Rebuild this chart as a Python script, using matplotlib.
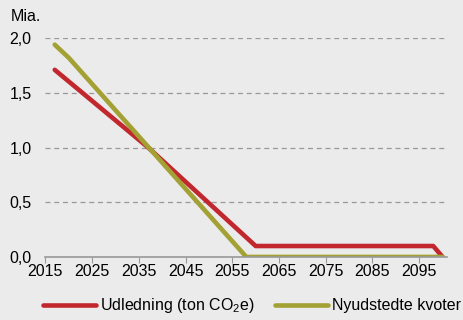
import matplotlib
matplotlib.use("Agg")
import matplotlib.pyplot as plt

plt.rcParams['font.family'] = ['Liberation Sans', 'DejaVu Sans']
plt.rcParams['mathtext.fontset'] = 'custom'
plt.rcParams['mathtext.rm'] = 'Liberation Sans'
plt.rcParams['mathtext.it'] = 'Liberation Sans:italic'

# data (mia.)
udl_years = [2017, 2037, 2060, 2098, 2100]
udl_vals = [1.71, 1.00, 0.10, 0.10, 0.00]
kvo_years = [2017, 2020, 2058, 2100]
kvo_vals = [1.94, 1.82, 0.00, 0.00]
xticks = list(range(2015, 2100, 10))
yticks = [0, 0.5, 1.0, 1.5, 2.0]
ylabels = ['0,0', '0,5', '1,0', '1,5', '2,0']

bg = '#ebebeb'
red = '#c1272d'
olive = '#a3a133'
fs = 11.5

fig = plt.figure(figsize=(4.63, 3.20), dpi=100, facecolor=bg)
ax = fig.add_axes([0.098, 0.197, 0.868, 0.684], facecolor=bg)

ax.plot(udl_years, udl_vals, color=red, linewidth=3.3, label='Udledning (ton CO$_2$e)',
        solid_joinstyle='round', solid_capstyle='round')
ax.plot(kvo_years, kvo_vals, color=olive, linewidth=3.3, label='Nyudstedte kvoter',
        solid_joinstyle='round', solid_capstyle='round')

ax.set_xlim(2015, 2101)
ax.set_ylim(0, 2.0)
ax.set_xticks(xticks)
ax.set_yticks(yticks)
ax.set_yticklabels(ylabels)
ax.tick_params(axis='x', direction='out', length=4, color='#999999', labelsize=fs, pad=1)
ax.tick_params(axis='y', length=0, labelsize=fs, pad=10)
for s in ['top', 'right', 'left']:
    ax.spines[s].set_visible(False)
ax.spines['bottom'].set_color('#999999')
ax.spines['bottom'].set_linewidth(1.2)
ax.set_axisbelow(True)
ax.yaxis.grid(True, linestyle=(0, (4, 3)), color='#999999', linewidth=0.9)
ax.text(-0.087, 1.065, 'Mia.', transform=ax.transAxes, fontsize=fs, ha='left', va='bottom')

fig.legend(loc='lower left', bbox_to_anchor=(0.062, -0.03), ncol=2, frameon=False,
           fontsize=fs, handlelength=3.3, columnspacing=1.3, handletextpad=0.25)

fig.savefig('out.png', dpi=100, facecolor=bg)
